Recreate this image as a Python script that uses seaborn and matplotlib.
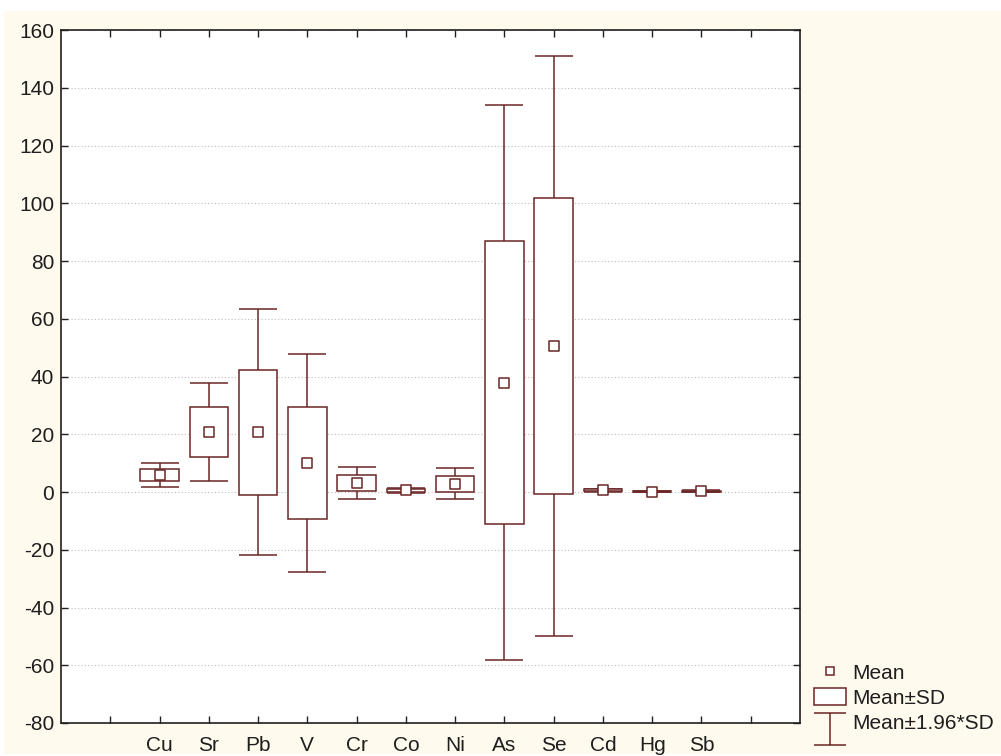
import numpy as np
import pandas as pd
import seaborn as sns
import matplotlib.pyplot as plt
from matplotlib.patches import Rectangle
from matplotlib.lines import Line2D
from matplotlib.path import Path

# element means and standard deviations
elements = ['Cu', 'Sr', 'Pb', 'V', 'Cr', 'Co', 'Ni', 'As', 'Se', 'Cd', 'Hg', 'Sb']
means = [5.9, 20.7, 20.7, 10.1, 3.2, 0.6, 2.8, 37.9, 50.6, 0.6, 0.15, 0.3]
sds = [2.1, 8.7, 21.7, 19.3, 2.8, 0.45, 2.75, 49.0, 51.3, 0.3, 0.08, 0.2]
yticks = list(range(-80, 161, 20))

df = pd.DataFrame({'element': elements, 'mean': means, 'sd': sds})
df['pos'] = np.arange(1, len(df) + 1)
df['lo'] = df['mean'] - df['sd']
df['ci'] = 1.96 * df['sd']

sns.set_theme(style='white')
plt.rcParams['font.family'] = ['Liberation Sans', 'DejaVu Sans']
plt.rcParams['axes.unicode_minus'] = False

line_col = '#6b2626'
cream = '#fffaee'
txt_col = '#1e1e1e'

fig = plt.figure(figsize=(10.01, 7.56), dpi=100)
fig.patch.set_facecolor('white')
fig.patches.append(Rectangle((4 / 1001, 2 / 756), 997 / 1001, 743 / 756,
                             transform=fig.transFigure, facecolor=cream,
                             edgecolor='none', zorder=-10))
ax = fig.add_axes([61 / 1001, 33 / 756, 739 / 1001, 693 / 756])
ax.set_facecolor('white')

# whiskers: mean +/- 1.96*SD
ax.errorbar(df['pos'], df['mean'], yerr=df['ci'], fmt='none', ecolor=line_col,
            elinewidth=1.1, capsize=14, capthick=1.1, zorder=2)
# boxes: mean +/- SD
ax.bar(df['pos'], 2 * df['sd'], bottom=df['lo'], width=0.78, color='white',
       edgecolor=line_col, linewidth=1.1, zorder=3)
# mean markers
sns.scatterplot(data=df, x='pos', y='mean', marker='s', s=55, color='white',
                edgecolor=line_col, linewidth=1.1, zorder=4, ax=ax)

ax.set_xlim(-1, 14)
ax.set_ylim(-80, 160)
ax.set_xticks(range(0, 14))
ax.set_xticklabels([''] + elements + [''])
ax.set_yticks(yticks)
ax.set_xlabel('')
ax.set_ylabel('')
ax.yaxis.grid(True, linestyle=(0, (1, 2)), color='#bdbdbd', linewidth=0.8)
ax.xaxis.grid(False)
ax.tick_params(axis='both', direction='in', length=5, width=1, color='#202020',
               labelsize=15, labelcolor=txt_col, top=True, right=True,
               bottom=True, left=True)
ax.tick_params(axis='x', pad=9.5)
ax.tick_params(axis='y', pad=5)
for sp in ax.spines.values():
    sp.set_color('#202020')
    sp.set_linewidth(1.2)

# legend; the I symbol sits a little below its label, as in the original
i_shape = Path([(-1, 0.5), (1, 0.5), (0, 0.5), (0, -1.5), (-1, -1.5), (1, -1.5)],
               [Path.MOVETO, Path.LINETO, Path.MOVETO, Path.LINETO,
                Path.MOVETO, Path.LINETO])
h_ci = Line2D([], [], linestyle='none', marker=i_shape, markersize=35,
              markerfacecolor='none', markeredgecolor=line_col,
              markeredgewidth=1.1)
h_mean = Line2D([], [], linestyle='none', marker='s', markersize=6,
                markerfacecolor='white', markeredgecolor=line_col,
                markeredgewidth=1.1)
h_box = Rectangle((0, 0), 1, 1, facecolor='white', edgecolor=line_col,
                  linewidth=1.1)
fig.legend([h_mean, h_box, h_ci], ['Mean', 'Mean±SD', 'Mean±1.96*SD'],
           loc='lower left', bbox_to_anchor=(804 / 1001, 13 / 756),
           frameon=False, fontsize=15, handlelength=1.53, handleheight=0.82,
           handletextpad=0.3, labelspacing=0.27, borderpad=0,
           labelcolor=txt_col)

fig.savefig('out.png', dpi=100, facecolor=fig.get_facecolor())
